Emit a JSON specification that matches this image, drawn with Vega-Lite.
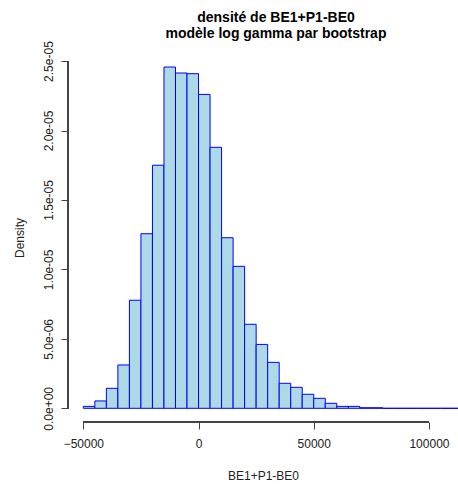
{
  "$schema": "https://vega.github.io/schema/vega-lite/v6.json",
  "autosize": "none",
  "width": 390,
  "height": 369,
  "padding": {"left": 68, "top": 53, "right": 0, "bottom": 67},
  "background": "white",
  "config": {"view": {"stroke": null}, "font": "Liberation Sans"},
  "title": {
    "text": ["densité de BE1+P1-BE0", "modèle log gamma par bootstrap"],
    "font": "Liberation Sans",
    "fontSize": 14,
    "fontWeight": "bold",
    "color": "#000000",
    "anchor": "middle",
    "frame": "group",
    "dx": 13,
    "dy": 16,
    "offset": 16,
    "lineHeight": 16
  },
  "datasets": {
    "bins": [
      {"start": -50000, "end": -45000, "density": 1.4e-7},
      {"start": -45000, "end": -40000, "density": 5.3e-7},
      {"start": -40000, "end": -35000, "density": 1.44e-6},
      {"start": -35000, "end": -30000, "density": 3.12e-6},
      {"start": -30000, "end": -25000, "density": 7.78e-6},
      {"start": -25000, "end": -20000, "density": 1.257e-5},
      {"start": -20000, "end": -15000, "density": 1.75e-5},
      {"start": -15000, "end": -10000, "density": 2.457e-5},
      {"start": -10000, "end": -5000, "density": 2.414e-5},
      {"start": -5000, "end": 0, "density": 2.409e-5},
      {"start": 0, "end": 5000, "density": 2.26e-5},
      {"start": 5000, "end": 10000, "density": 1.879e-5},
      {"start": 10000, "end": 15000, "density": 1.228e-5},
      {"start": 15000, "end": 20000, "density": 1.022e-5},
      {"start": 20000, "end": 25000, "density": 6.05e-6},
      {"start": 25000, "end": 30000, "density": 4.6e-6},
      {"start": 30000, "end": 35000, "density": 3.31e-6},
      {"start": 35000, "end": 40000, "density": 1.8e-6},
      {"start": 40000, "end": 45000, "density": 1.51e-6},
      {"start": 45000, "end": 50000, "density": 1.01e-6},
      {"start": 50000, "end": 55000, "density": 7.2e-7},
      {"start": 55000, "end": 60000, "density": 3.6e-7},
      {"start": 60000, "end": 65000, "density": 1.4e-7},
      {"start": 65000, "end": 70000, "density": 1.4e-7},
      {"start": 70000, "end": 75000, "density": 4e-8},
      {"start": 75000, "end": 80000, "density": 4e-8},
      {"start": 80000, "end": 85000, "density": 0},
      {"start": 85000, "end": 90000, "density": 0},
      {"start": 90000, "end": 95000, "density": 0},
      {"start": 95000, "end": 100000, "density": 0},
      {"start": 100000, "end": 105000, "density": 0},
      {"start": 105000, "end": 110000, "density": 0},
      {"start": 110000, "end": 115000, "density": 0},
      {"start": 115000, "end": 120000, "density": 0}
    ]
  },
  "data": {"name": "bins"},
  "layer": [
    {
      "mark": {"type": "rect", "fill": "#ADD8E6", "stroke": "#0000FF", "strokeWidth": 1, "clip": true},
      "encoding": {
        "x": {
          "field": "start",
          "type": "quantitative",
          "scale": {"domain": [-56650, 112600], "nice": false, "zero": false},
          "axis": {
            "values": [-50000, 0, 50000, 100000],
            "domain": false,
            "grid": false,
            "tickSize": 7,
            "tickColor": "#444444",
            "labelFont": "Liberation Sans",
            "labelFontSize": 12,
            "labelColor": "#222222",
            "labelPadding": 9,
            "labelFlush": false,
            "labelOverlap": false,
            "format": "d",
            "title": "BE1+P1-BE0",
            "titleFont": "Liberation Sans",
            "titleFontSize": 12,
            "titleFontWeight": "normal",
            "titleColor": "#222222",
            "titlePadding": 21
          }
        },
        "x2": {"field": "end"},
        "y": {
          "field": "density",
          "type": "quantitative",
          "scale": {"domain": [-9.86e-7, 2.558e-5], "nice": false, "zero": false},
          "axis": {
            "values": [0, 5e-6, 1e-5, 1.5e-5, 2e-5, 2.5e-5],
            "labelExpr": "replace(replace(format(datum.value, '.1e'), 'e-', 'e-0'), 'e+', 'e+0')",
            "domain": false,
            "grid": false,
            "tickSize": 7,
            "tickColor": "#444444",
            "labelAngle": -90,
            "labelAlign": "center",
            "labelBaseline": "bottom",
            "labelFont": "Liberation Sans",
            "labelFontSize": 12,
            "labelColor": "#222222",
            "labelPadding": 6,
            "labelOverlap": false,
            "labelFlush": false,
            "title": "Density",
            "titleFont": "Liberation Sans",
            "titleFontSize": 12,
            "titleFontWeight": "normal",
            "titleColor": "#222222",
            "titlePadding": 16
          }
        },
        "y2": {"datum": 0}
      }
    },
    {
      "mark": {"type": "rule", "color": "#444444", "strokeWidth": 1},
      "encoding": {
        "x": {"datum": -50000, "type": "quantitative"},
        "x2": {"datum": 100000},
        "y": {"datum": -9.86e-7, "type": "quantitative"}
      }
    },
    {
      "mark": {"type": "rule", "color": "#444444", "strokeWidth": 1},
      "encoding": {
        "x": {"datum": -56650, "type": "quantitative"},
        "y": {"datum": 0, "type": "quantitative"},
        "y2": {"datum": 2.5e-5}
      }
    }
  ]
}
